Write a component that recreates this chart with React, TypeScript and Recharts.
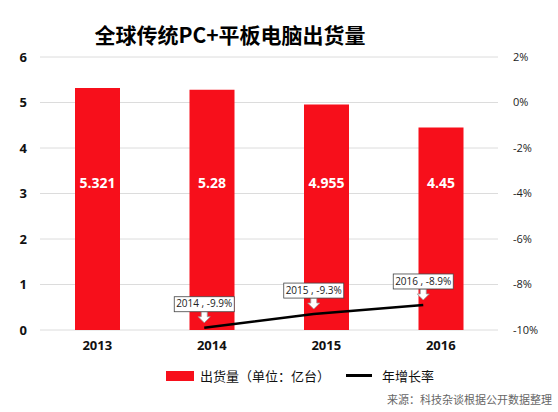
import React from "react";
import { Bar, CartesianGrid, ComposedChart, LabelList, Line, XAxis, YAxis } from "recharts";

const years = ["2013", "2014", "2015", "2016"];
const shipments = [5.321, 5.28, 4.955, 4.45];
const growth = [null, -9.9, -9.3, -8.9];
const leftTicks = [0, 1, 2, 3, 4, 5, 6];
const rightTicks = [-10, -8, -6, -4, -2, 0, 2];

const data = years.map((y, i) => ({ year: y, shipments: shipments[i], growth: growth[i] }));

const FONT = "'Open Sans', 'Noto Sans CJK SC', sans-serif";
const RED = "#f70f1b";

// bar value labels sit at a fixed level (about 3.2 on the left axis), not mid-bar
const BarValue = (props: any) => {
  const { x, y, width, height, value } = props;
  const base = y + height;
  const ly = base - (3.2 * height) / value;
  return (
    <text x={x + width / 2} y={ly} textAnchor="middle" dominantBaseline="middle"
      fill="#fff" fontSize={14} fontWeight={700} fontFamily={FONT}>
      {value}
    </text>
  );
};

const Callout = (props: any) => {
  const { x, y, value, index } = props;
  if (value == null) return null;
  const text = `${years[index]} , ${value}%`;
  const w = 60;
  const h = 15;
  const bottom = y - 16;
  const top = bottom - h;
  return (
    <g>
      <path
        d={`M${x - 3},${bottom} L${x + 3},${bottom} L${x + 3},${bottom + 5} L${x + 6},${bottom + 5} L${x},${bottom + 11} L${x - 6},${bottom + 5} L${x - 3},${bottom + 5} Z`}
        fill="#fff" stroke="#999" strokeWidth={0.8}
      />
      <rect x={x - w / 2} y={top} width={w} height={h} fill="#fff" stroke="#444" strokeWidth={0.8} />
      <text x={x} y={top + h / 2 + 0.5} textAnchor="middle" dominantBaseline="middle"
        fontSize={10} fill="#222" fontFamily={FONT}>
        {text}
      </text>
    </g>
  );
};

export default function App() {
  return (
    <div style={{ position: "absolute", left: 0, top: 0, width: 558, height: 412, background: "#fff", fontFamily: FONT }}>
      <div style={{ position: "absolute", left: 0, top: 19, width: 460, textAlign: "center", fontSize: 21, fontWeight: 700, color: "#000", fontFamily: "'Noto Sans CJK SC', sans-serif" }}>
        全球传统PC+平板电脑出货量
      </div>
      <ComposedChart width={558} height={412} data={data} margin={{ top: 57, right: 0, bottom: 52, left: 0 }}>
        <CartesianGrid vertical={false} stroke="#dcdcdc" yAxisId="left" />
        <XAxis dataKey="year" xAxisId="bar" axisLine={false} tickLine={false} tickMargin={5} height={30}
          tick={{ fontSize: 13, fontWeight: 700, fill: "#111", fontFamily: FONT }} />
        <XAxis dataKey="year" xAxisId="line" hide padding={{ left: 0, right: 20 }} />
        <YAxis yAxisId="left" domain={[0, 6]} ticks={leftTicks} width={40} axisLine={false} tickLine={false}
          tickMargin={7} tick={{ fontSize: 13, fontWeight: 700, fill: "#111", fontFamily: FONT }} />
        <YAxis yAxisId="right" orientation="right" domain={[-10, 2]} ticks={rightTicks} width={60}
          axisLine={false} tickLine={false} tickMargin={9} tickFormatter={(v) => `${v}%`}
          tick={{ fontSize: 11, fill: "#222", fontFamily: FONT, textAnchor: "start" }} />
        <Bar dataKey="shipments" xAxisId="bar" yAxisId="left" fill={RED} barSize={45} isAnimationActive={false}>
          <LabelList dataKey="shipments" content={BarValue} />
        </Bar>
        <Line dataKey="growth" xAxisId="line" yAxisId="right" stroke="#000" strokeWidth={2.5} dot={false}
          activeDot={false} connectNulls isAnimationActive={false}>
          <LabelList dataKey="growth" content={Callout} />
        </Line>
      </ComposedChart>
      <div style={{ position: "absolute", left: 166, top: 366, display: "flex", alignItems: "center", fontSize: 13, color: "#111", fontFamily: "'Noto Sans CJK SC', sans-serif", whiteSpace: "nowrap" }}>
        <span style={{ display: "inline-block", width: 28, height: 10, background: RED, marginRight: 6 }} />
        <span>出货量（单位：亿台）</span>
        <span style={{ display: "inline-block", width: 26, height: 3, background: "#000", marginLeft: 16, marginRight: 10 }} />
        <span>年增长率</span>
      </div>
      <div style={{ position: "absolute", right: 6, top: 391, fontSize: 11, color: "#666", fontFamily: "'Noto Sans CJK SC', sans-serif", whiteSpace: "nowrap" }}>
        来源：科技杂谈根据公开数据整理
      </div>
    </div>
  );
}
